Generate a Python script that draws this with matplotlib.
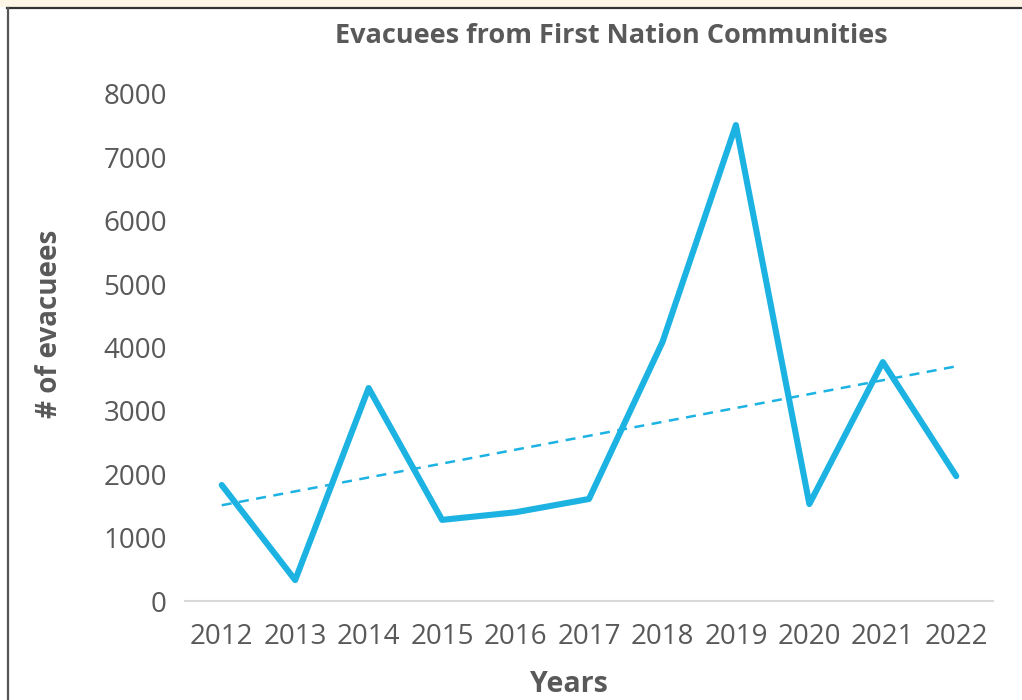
import numpy as np
import matplotlib
matplotlib.use("Agg")
import matplotlib.pyplot as plt
from matplotlib.patches import Rectangle
from matplotlib.lines import Line2D

years = ["2012", "2013", "2014", "2015", "2016", "2017", "2018", "2019", "2020", "2021", "2022"]
evacuees = [1830, 330, 3360, 1280, 1400, 1610, 4085, 7510, 1530, 3770, 1970]
yticks = [0, 1000, 2000, 3000, 4000, 5000, 6000, 7000, 8000]

plt.rcParams['font.family'] = ['Open Sans', 'DejaVu Sans']
gray = '#595959'
blue = '#1CB3E3'

fig = plt.figure(figsize=(10.22, 7.0), dpi=100)
fig.patch.set_facecolor('white')

# frame decoration (screenshot border)
fig.patches.append(Rectangle((0, 1 - 7/700), 1, 7/700, transform=fig.transFigure,
                             facecolor='#FDF6E6', edgecolor='none', zorder=0))
fig.lines.append(Line2D([7/1022, 1], [1 - 7.5/700, 1 - 7.5/700], transform=fig.transFigure,
                        color='#333333', lw=1.6))
fig.lines.append(Line2D([7.5/1022, 7.5/1022], [0, 1 - 7.5/700], transform=fig.transFigure,
                        color='#555555', lw=1.6))

ax = fig.add_axes([185/1022, 1 - 601/700, (993 - 185)/1022, (601 - 94)/700])
x = np.arange(len(years))
ax.plot(x, evacuees, color=blue, lw=4.4, solid_joinstyle='round', solid_capstyle='round', zorder=3)

coef = np.polyfit(x, evacuees, 1)
ax.plot(x, np.polyval(coef, x), color=blue, lw=1.8, dashes=(4, 3), zorder=2)

ax.set_xlim(-0.5, len(years) - 0.5)
ax.set_ylim(0, 8000)
ax.set_xticks(x)
ax.set_xticklabels(years)
ax.set_yticks(yticks)
ax.set_yticklabels([str(v) for v in yticks])
ax.tick_params(axis='both', length=0, labelsize=20, colors=gray)
ax.tick_params(axis='x', pad=16)
ax.tick_params(axis='y', pad=13)
for s in ['top', 'right', 'left']:
    ax.spines[s].set_visible(False)
ax.spines['bottom'].set_color('#D9D9D9')
ax.spines['bottom'].set_linewidth(1.5)

fig.text(611/1022, 1 - 36/700, "Evacuees from First Nation Communities", ha='center', va='center',
         fontsize=19.5, fontweight='bold', color=gray)
fig.text(50/1022, 1 - 324/700, "# of evacuees", ha='center', va='center', rotation=90,
         fontsize=20, fontweight='bold', color=gray)
fig.text(569/1022, 1 - 684/700, "Years", ha='center', va='center',
         fontsize=20.5, fontweight='bold', color=gray)

fig.savefig("out.png", dpi=100)
